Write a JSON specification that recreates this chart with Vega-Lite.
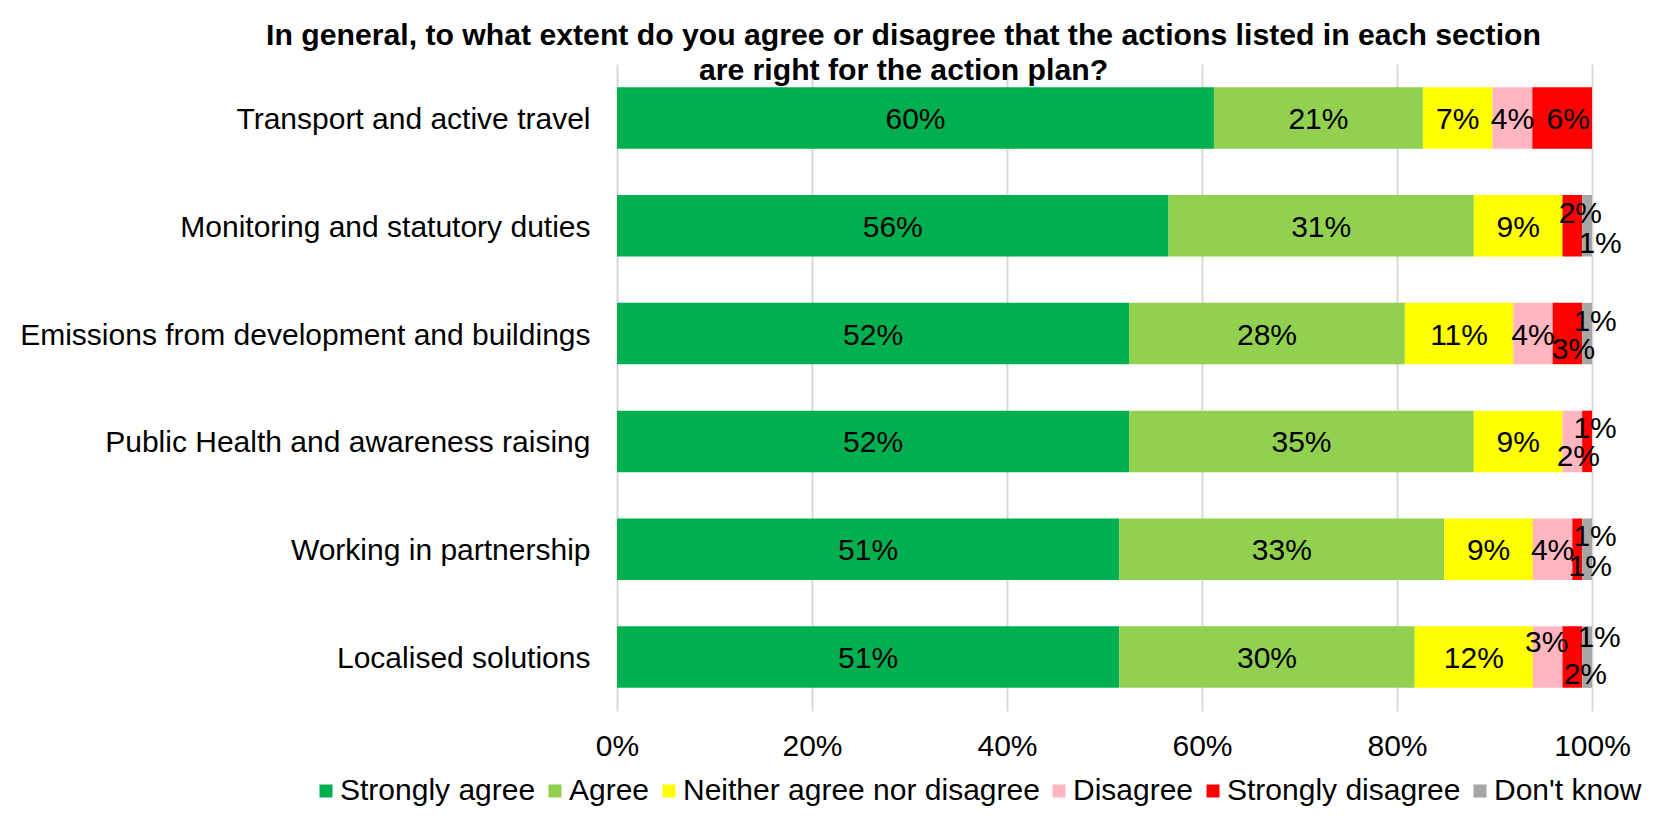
{
  "$schema": "https://vega.github.io/schema/vega-lite/v6.json",
  "autosize": {"type": "none"},
  "width": 975,
  "height": 647,
  "padding": {"left": 617, "top": 64, "right": 68, "bottom": 125},
  "background": "white",
  "config": {
    "view": {"stroke": null},
    "font": "Liberation Sans",
    "axis": {"labelFont": "Liberation Sans", "labelColor": "#000000"},
    "legend": {"labelFont": "Liberation Sans", "labelColor": "#000000"}
  },
  "title": {
    "text": ["In general, to what extent do you agree or disagree that the actions listed in each section", "are right for the action plan?"],
    "font": "Liberation Sans",
    "fontSize": 30.2,
    "fontWeight": "bold",
    "color": "#000000",
    "anchor": "middle",
    "frame": "group",
    "dx": -201,
    "lineHeight": 35,
    "offset": -22
  },
  "data": {
    "values": [
      {"category": "Transport and active travel", "response": "Strongly agree", "code": 1, "share": 0.60},
      {"category": "Transport and active travel", "response": "Agree", "code": 2, "share": 0.21},
      {"category": "Transport and active travel", "response": "Neither agree nor disagree", "code": 3, "share": 0.07},
      {"category": "Transport and active travel", "response": "Disagree", "code": 4, "share": 0.04},
      {"category": "Transport and active travel", "response": "Strongly disagree", "code": 5, "share": 0.06},
      {"category": "Monitoring and statutory duties", "response": "Strongly agree", "code": 1, "share": 0.56},
      {"category": "Monitoring and statutory duties", "response": "Agree", "code": 2, "share": 0.31},
      {"category": "Monitoring and statutory duties", "response": "Neither agree nor disagree", "code": 3, "share": 0.09},
      {"category": "Monitoring and statutory duties", "response": "Strongly disagree", "code": 5, "share": 0.02},
      {"category": "Monitoring and statutory duties", "response": "Don't know", "code": 6, "share": 0.01},
      {"category": "Emissions from development and buildings", "response": "Strongly agree", "code": 1, "share": 0.52},
      {"category": "Emissions from development and buildings", "response": "Agree", "code": 2, "share": 0.28},
      {"category": "Emissions from development and buildings", "response": "Neither agree nor disagree", "code": 3, "share": 0.11},
      {"category": "Emissions from development and buildings", "response": "Disagree", "code": 4, "share": 0.04},
      {"category": "Emissions from development and buildings", "response": "Strongly disagree", "code": 5, "share": 0.03},
      {"category": "Emissions from development and buildings", "response": "Don't know", "code": 6, "share": 0.01},
      {"category": "Public Health and awareness raising", "response": "Strongly agree", "code": 1, "share": 0.52},
      {"category": "Public Health and awareness raising", "response": "Agree", "code": 2, "share": 0.35},
      {"category": "Public Health and awareness raising", "response": "Neither agree nor disagree", "code": 3, "share": 0.09},
      {"category": "Public Health and awareness raising", "response": "Disagree", "code": 4, "share": 0.02},
      {"category": "Public Health and awareness raising", "response": "Strongly disagree", "code": 5, "share": 0.01},
      {"category": "Working in partnership", "response": "Strongly agree", "code": 1, "share": 0.51},
      {"category": "Working in partnership", "response": "Agree", "code": 2, "share": 0.33},
      {"category": "Working in partnership", "response": "Neither agree nor disagree", "code": 3, "share": 0.09},
      {"category": "Working in partnership", "response": "Disagree", "code": 4, "share": 0.04},
      {"category": "Working in partnership", "response": "Strongly disagree", "code": 5, "share": 0.01},
      {"category": "Working in partnership", "response": "Don't know", "code": 6, "share": 0.01},
      {"category": "Localised solutions", "response": "Strongly agree", "code": 1, "share": 0.51},
      {"category": "Localised solutions", "response": "Agree", "code": 2, "share": 0.30},
      {"category": "Localised solutions", "response": "Neither agree nor disagree", "code": 3, "share": 0.12},
      {"category": "Localised solutions", "response": "Disagree", "code": 4, "share": 0.03},
      {"category": "Localised solutions", "response": "Strongly disagree", "code": 5, "share": 0.02},
      {"category": "Localised solutions", "response": "Don't know", "code": 6, "share": 0.01}
    ]
  },
  "encoding": {
    "y": {
      "field": "category",
      "type": "nominal",
      "sort": ["Transport and active travel", "Monitoring and statutory duties", "Emissions from development and buildings", "Public Health and awareness raising", "Working in partnership", "Localised solutions"],
      "scale": {"paddingInner": 0.43, "paddingOuter": 0.215},
      "axis": {"title": null, "ticks": false, "domain": false, "labelFontSize": 30, "labelPadding": 27, "labelLimit": 800, "labelOffset": 2}
    },
    "order": {"field": "code", "type": "quantitative", "sort": "ascending"}
  },
  "layer": [
    {
      "mark": {"type": "bar"},
      "encoding": {
        "x": {
          "field": "share",
          "type": "quantitative",
          "stack": "normalize",
          "axis": {"title": null, "values": [0, 0.2, 0.4, 0.6, 0.8, 1], "format": ".0%", "ticks": false, "domain": false, "grid": true, "gridColor": "#d9d9d9", "gridWidth": 2, "labelFontSize": 30, "labelPadding": 20, "labelFlush": false}
        },
        "color": {
          "field": "response",
          "type": "nominal",
          "scale": {
            "domain": ["Strongly agree", "Agree", "Neither agree nor disagree", "Disagree", "Strongly disagree", "Don't know"],
            "range": ["#00B050", "#92D050", "#FFFF00", "#FFB6C1", "#FF0000", "#A6A6A6"]
          },
          "legend": {
            "title": null,
            "orient": "none",
            "direction": "horizontal",
            "columns": 6,
            "legendX": -306,
            "legendY": 712,
            "symbolType": "square",
            "symbolSize": 169,
            "symbolStrokeWidth": 0,
            "labelFontSize": 30,
            "labelOffset": -1,
            "labelLimit": 600,
            "columnPadding": 4
          }
        }
      }
    },
    {
      "mark": {"type": "text", "fontSize": 30, "color": "#000000", "font": "Liberation Sans", "dy": 2},
      "encoding": {
        "x": {"field": "share", "type": "quantitative", "stack": "normalize", "bandPosition": 0.5},
        "text": {"condition": {"test": "indexof(['Moni5','Emis6','Publ5','Work6','Loca6','Loca4','Emis5','Publ4','Work5','Loca5','Moni6','Tran5'], slice(datum.category,0,4)+datum.code) < 0", "field": "share", "type": "quantitative", "format": ".0%"}, "value": ""}
      }
    },
    {
      "mark": {"type": "text", "fontSize": 30, "color": "#000000", "font": "Liberation Sans", "dx": 6, "dy": 2},
      "encoding": {
        "x": {"field": "share", "type": "quantitative", "stack": "normalize", "bandPosition": 0.5},
        "text": {"condition": {"test": "indexof(['Tran5'], slice(datum.category,0,4)+datum.code) >= 0", "field": "share", "type": "quantitative", "format": ".0%"}, "value": ""}
      }
    },
    {
      "mark": {"type": "text", "fontSize": 30, "color": "#000000", "font": "Liberation Sans", "dx": 8, "dy": -12},
      "encoding": {
        "x": {"field": "share", "type": "quantitative", "stack": "normalize", "bandPosition": 0.5},
        "text": {"condition": {"test": "indexof(['Moni5','Emis6','Publ5','Work6'], slice(datum.category,0,4)+datum.code) >= 0", "field": "share", "type": "quantitative", "format": ".0%"}, "value": ""}
      }
    },
    {
      "mark": {"type": "text", "fontSize": 30, "color": "#000000", "font": "Liberation Sans", "dx": 12, "dy": -19},
      "encoding": {
        "x": {"field": "share", "type": "quantitative", "stack": "normalize", "bandPosition": 0.5},
        "text": {"condition": {"test": "indexof(['Loca6'], slice(datum.category,0,4)+datum.code) >= 0", "field": "share", "type": "quantitative", "format": ".0%"}, "value": ""}
      }
    },
    {
      "mark": {"type": "text", "fontSize": 30, "color": "#000000", "font": "Liberation Sans", "dx": -1, "dy": -14},
      "encoding": {
        "x": {"field": "share", "type": "quantitative", "stack": "normalize", "bandPosition": 0.5},
        "text": {"condition": {"test": "indexof(['Loca4'], slice(datum.category,0,4)+datum.code) >= 0", "field": "share", "type": "quantitative", "format": ".0%"}, "value": ""}
      }
    },
    {
      "mark": {"type": "text", "fontSize": 30, "color": "#000000", "font": "Liberation Sans", "dx": 6, "dy": 16},
      "encoding": {
        "x": {"field": "share", "type": "quantitative", "stack": "normalize", "bandPosition": 0.5},
        "text": {"condition": {"test": "indexof(['Emis5','Publ4'], slice(datum.category,0,4)+datum.code) >= 0", "field": "share", "type": "quantitative", "format": ".0%"}, "value": ""}
      }
    },
    {
      "mark": {"type": "text", "fontSize": 30, "color": "#000000", "font": "Liberation Sans", "dx": 13, "dy": 18},
      "encoding": {
        "x": {"field": "share", "type": "quantitative", "stack": "normalize", "bandPosition": 0.5},
        "text": {"condition": {"test": "indexof(['Work5','Loca5','Moni6'], slice(datum.category,0,4)+datum.code) >= 0", "field": "share", "type": "quantitative", "format": ".0%"}, "value": ""}
      }
    }
  ]
}
